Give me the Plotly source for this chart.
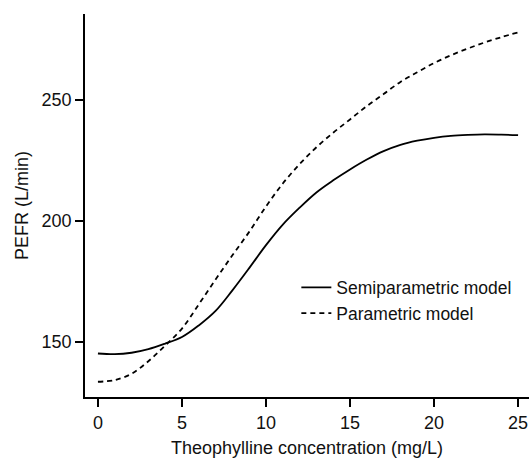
import plotly.graph_objects as go

conc = list(range(0, 26))
semiparametric = [145.2, 144.9, 145.5, 147.0, 149.3, 152.0, 156.8, 162.8, 171.3, 180.5,
                  190.0, 198.5, 205.5, 211.8, 216.8, 221.3, 225.4, 228.9, 231.5, 233.2,
                  234.4, 235.2, 235.6, 235.8, 235.7, 235.5]
parametric = [133.5, 134.2, 136.8, 142.0, 148.5, 155.5, 165.5, 175.8, 185.8, 195.5,
              206.0, 215.5, 223.5, 230.5, 236.5, 242.0, 247.5, 252.5, 257.5, 261.5,
              265.3, 268.5, 271.3, 273.8, 276.0, 278.0]
x_ticks = [0, 5, 10, 15, 20, 25]
y_ticks = [150, 200, 250]

FONT = "Liberation Sans, Arial, Helvetica, sans-serif"

fig = go.Figure()
fig.add_trace(go.Scatter(x=conc, y=semiparametric, mode="lines", name="Semiparametric model",
                         line=dict(color="black", width=1.8, shape="spline", smoothing=1.0)))
fig.add_trace(go.Scatter(x=conc, y=parametric, mode="lines", name="Parametric model",
                         line=dict(color="black", width=1.8, dash="5px,4px", shape="spline",
                                   smoothing=1.0)))

fig.update_layout(
    width=531, height=459,
    margin=dict(l=85, r=2, t=14, b=62),
    paper_bgcolor="white", plot_bgcolor="white",
    font=dict(family=FONT, size=18, color="#111"),
    showlegend=True,
    legend=dict(x=0.476, y=0.252, xanchor="left", yanchor="middle",
                bgcolor="rgba(0,0,0,0)", font=dict(size=17.5), tracegroupgap=0,
                itemwidth=30),
    xaxis=dict(range=[-0.77, 25.65], tickvals=x_ticks, ticks="outside", ticklen=8,
               tickwidth=1.5, tickcolor="black", showline=True, linecolor="black",
               linewidth=2, showgrid=False, zeroline=False,
               title=dict(text="Theophylline concentration (mg/L)", standoff=10,
                          font=dict(size=18))),
    yaxis=dict(range=[127.2, 285.6], tickvals=y_ticks, ticks="outside", ticklen=8,
               tickwidth=1.5, tickcolor="black", showline=True, linecolor="black",
               linewidth=1.5, showgrid=False, zeroline=False,
               title=dict(text="PEFR (L/min)", standoff=8, font=dict(size=18))),
)

fig.write_html("out.html")
